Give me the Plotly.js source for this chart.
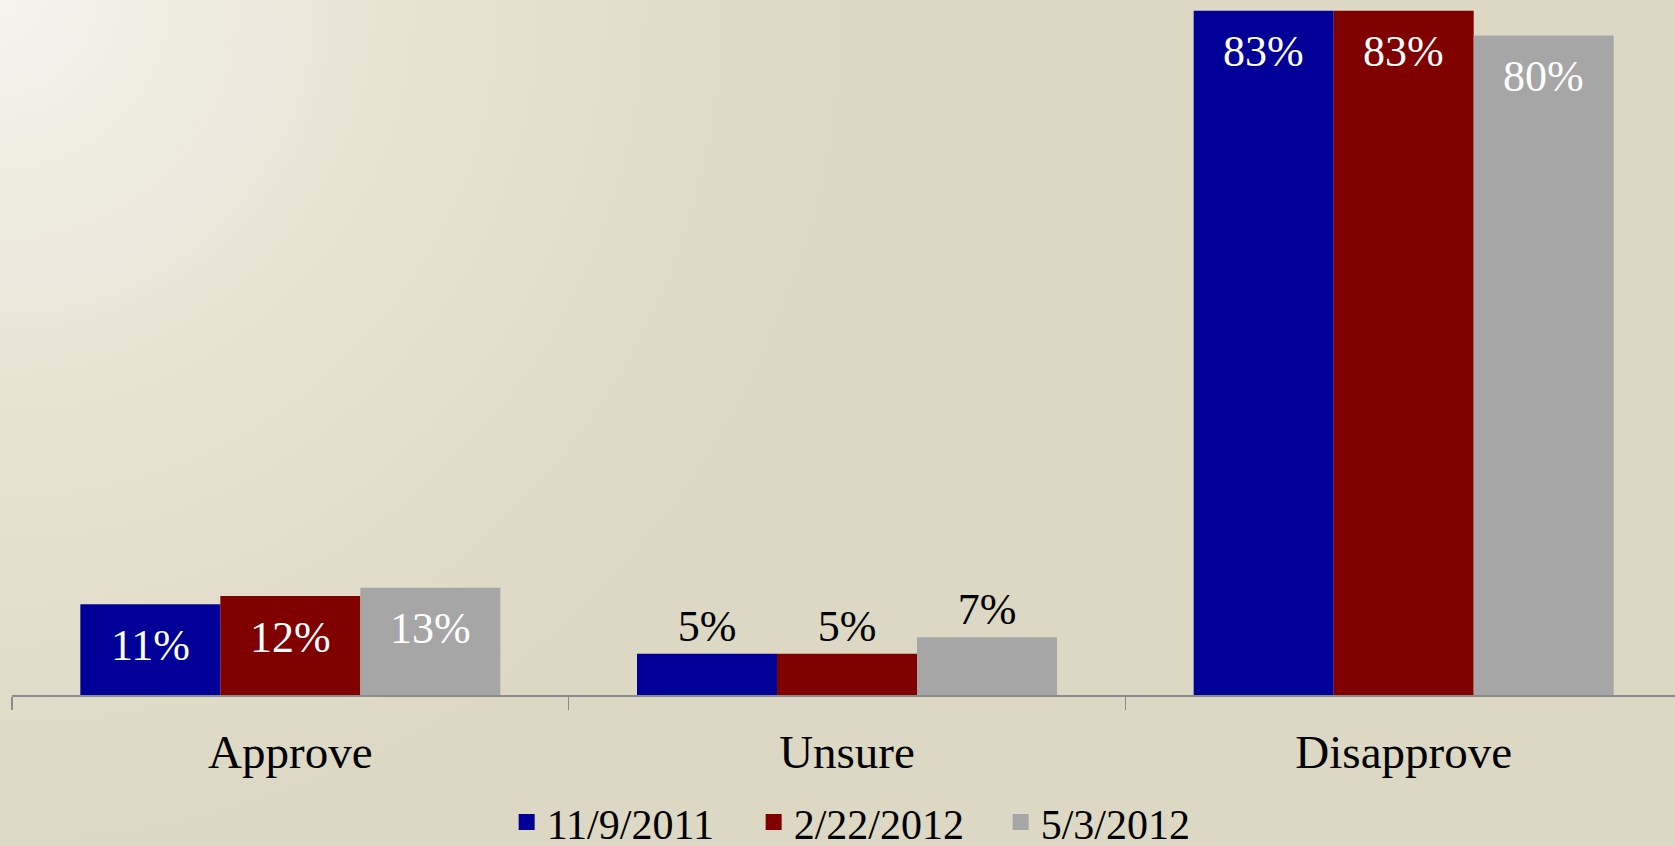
<!DOCTYPE html>
<html>
<head>
<meta charset="utf-8">
<script src="https://cdn.plot.ly/plotly-3.0.1.min.js"></script>
<style>
  html, body { margin:0; padding:0; width:1675px; height:846px; overflow:hidden;
    background: radial-gradient(circle at 0 0, #f5f3ed 0px, #e8e4d4 380px, #ddd8c3 850px, #ddd8c3 100%); }
  #chart { width:1682px; height:846px; }
</style>
</head>
<body>
<div id="chart"></div>
<script>
const categories = ['Approve', 'Unsure', 'Disapprove'];
const seriesNames = ['11/9/2011', '2/22/2012', '5/3/2012'];
const values2011_11_09 = [11, 5, 83];
const values2012_02_22 = [12, 5, 83];
const values2012_05_03 = [13, 7, 80];
const seriesValues = [values2011_11_09, values2012_02_22, values2012_05_03];
const seriesColors = ['#000099', '#800000', '#a6a6a6'];
const labelInside = [true, false, true];

const FONT = '"Liberation Serif", "Times New Roman", serif';

const W = 1682, H = 846;
const M = { l: 12, r: 0, t: 0, b: 150.5 };
const BARGAP = 0.2455;
const catPx = (W - M.l - M.r) / categories.length;
const barPx = catPx * (1 - BARGAP) / seriesValues.length;

const traces = [];
seriesValues.forEach((vals, i) => {
  traces.push({
    type: 'bar',
    name: seriesNames[i],
    x: categories,
    y: vals,
    showlegend: false,
    marker: { color: seriesColors[i], line: { width: 0 } },
    text: vals.map(v => v + '%'),
    textposition: labelInside.map(inside => inside ? 'none' : 'outside'),
    outsidetextfont: { family: FONT, size: 44, color: '#000000' },
    textangle: 0,
    cliponaxis: false,
    hoverinfo: 'none'
  });
});
// legend entries (square swatches)
seriesNames.forEach((name, i) => {
  traces.push({
    type: 'scatter', mode: 'markers', name: name,
    x: [null], y: [null],
    marker: { symbol: 'square', size: 19, color: seriesColors[i] },
    showlegend: true, hoverinfo: 'none'
  });
});

// inside labels as annotations anchored on the data values
const annotations = [];
seriesValues.forEach((vals, i) => {
  vals.forEach((v, j) => {
    if (!labelInside[j]) return;
    annotations.push({
      x: categories[j], y: v, xref: 'x', yref: 'y',
      xshift: (i - (seriesValues.length - 1) / 2) * barPx,
      yshift: -41, yanchor: 'middle', xanchor: 'center',
      text: v + '%', showarrow: false,
      font: { family: FONT, size: 44, color: '#ffffff' }
    });
  });
});

const layout = {
  width: W,
  height: H,
  margin: M,
  paper_bgcolor: 'rgba(0,0,0,0)',
  plot_bgcolor: 'rgba(0,0,0,0)',
  barmode: 'group',
  bargap: BARGAP,
  bargroupgap: 0,
  showlegend: true,
  annotations: annotations,
  legend: {
    orientation: 'h',
    xref: 'container', yref: 'container',
    x: 0.5215, xanchor: 'center',
    y: 0.028, yanchor: 'middle',
    font: { family: FONT, size: 42, color: '#000000' },
    bgcolor: 'rgba(0,0,0,0)',
    entrywidth: 202,
    itemsizing: 'trace',
    traceorder: 'normal'
  },
  xaxis: {
    type: 'category',
    showline: true, linecolor: '#8c8c8c', linewidth: 2,
    ticks: 'outside', tickson: 'boundaries', ticklen: 13, tickcolor: '#8c8c8c', tickwidth: 1.5,
    tickfont: { family: FONT, size: 47, color: '#000000' },
    ticklabelstandoff: 15,
    showgrid: false, zeroline: false
  },
  yaxis: {
    range: [0, 84.3],
    visible: false,
    showgrid: false, zeroline: false
  },
  font: { family: FONT }
};

Plotly.newPlot('chart', traces, layout, { displayModeBar: false, staticPlot: true });
</script>
</body>
</html>
